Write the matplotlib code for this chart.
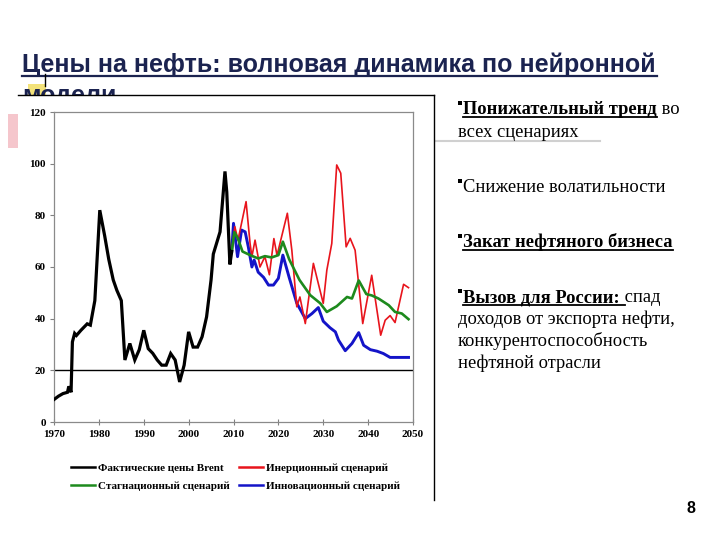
import matplotlib
matplotlib.use('Agg')
import matplotlib.pyplot as plt
from matplotlib.patches import Rectangle
from matplotlib.lines import Line2D

# ---------------- data ----------------
brent_years = [1970, 1971, 1972, 1973, 1973.3, 1973.8, 1974.1, 1974.6, 1975, 1976, 1977.4, 1978.1,
               1979.1, 1980.2, 1981.3, 1982.2, 1983.2, 1984, 1985, 1985.8, 1986.9, 1988, 1989,
               1990, 1991, 1992, 1993, 1994, 1995, 1996, 1997, 1998, 1999, 2000, 2001, 2002,
               2003, 2004, 2005, 2005.5, 2007, 2008.1, 2008.5, 2009.2, 2009.6]
brent_vals = [8.7, 10, 11, 11.5, 13.8, 11.5, 31, 34.3, 33.5, 35.5, 38, 37.5,
              47, 82, 72, 63, 55, 51, 47, 24, 30.4, 24, 28,
              35.5, 28.4, 26.6, 24, 22, 22, 26.5, 24, 15.5, 22, 34.9, 29, 29,
              33, 40.7, 55, 65, 73.6, 97, 89, 61, 66]

inert_years = [2009.6, 2010.3, 2011, 2012.8, 2013.7, 2014.1, 2014.8, 2015.9, 2017, 2018, 2019,
               2019.7, 2022, 2023, 2024.1, 2024.8, 2026, 2027.8, 2028.9, 2030, 2030.8, 2031.9,
               2033, 2033.9, 2035.1, 2036, 2037.1, 2038.8, 2040.8, 2042.8, 2043.8, 2044.9,
               2046, 2047.9, 2049]
inert_vals = [66, 75.6, 70.4, 85.3, 69, 64, 70.4, 60, 64, 57, 71,
              64.5, 80.8, 66.5, 44.6, 48.4, 38.1, 61.4, 53.6, 45.9, 58.8, 69.1,
              99.5, 96.3, 67.8, 71.1, 66.5, 38.1, 56.8, 33.6, 39.4, 41.2,
              38.5, 53.3, 52]

stag_years = [2009.6, 2010.2, 2011, 2012, 2013.7, 2015.5, 2017, 2018.5, 2020, 2021, 2022.4,
              2024.7, 2027.1, 2029.3, 2030.8, 2033, 2035.3, 2036.4, 2037.9, 2039.6, 2040.8,
              2042.3, 2044.6, 2046, 2047.5, 2049]
stag_vals = [66, 73.5, 71, 66, 64.6, 63.3, 64.2, 63.7, 64.6, 69.8, 63,
             55, 49.1, 46, 42.6, 44.8, 48.4, 47.8, 54.8, 49.5, 49,
             47.8, 45.2, 42.6, 42, 39.8]

innov_years = [2009.6, 2010, 2010.9, 2011.8, 2012.6, 2013.3, 2014.1, 2014.6, 2015.5, 2016.7,
               2017.8, 2018.9, 2020, 2021, 2022.4, 2024.1, 2026, 2027.5, 2028.9, 2030,
               2031.5, 2032.7, 2033.4, 2034.9, 2036.4, 2037.9, 2039, 2040.5, 2042, 2043.4,
               2044.9, 2049]
innov_vals = [66, 76.9, 64, 74.3, 73.6, 67.8, 60, 62.7, 58, 56,
              53, 53, 55.6, 64.6, 56, 46, 40, 42, 44.3, 39,
              36.5, 34.9, 31.7, 27.6, 30.4, 34.6, 29.7, 28, 27.4, 26.5,
              25, 25]

x_ticks = list(range(1970, 2051, 10))
y_ticks = list(range(0, 121, 20))

labels = ['Фактические цены Brent', 'Инерционный сценарий',
          'Стагнационный сценарий', 'Инновационный сценарий']

title_line1 = 'Цены на нефть: волновая динамика по нейронной'
title_line2 = 'модели'

# ---------------- figure ----------------
W, H = 720, 540
fig = plt.figure(figsize=(7.2, 5.4), dpi=100)
fig.patch.set_facecolor('white')


def fx(x):
    return x / W


def fy(y):
    return 1 - y / H


navy = '#1b2350'
renderer = fig.canvas.get_renderer()
title_family = ['Liberation Sans', 'DejaVu Sans']

t1 = fig.text(fx(22), fy(72), title_line1, fontsize=18, fontweight='bold',
              family=title_family, color=navy, zorder=1)
w = t1.get_window_extent(renderer).width
fs_title = 18 * 635 / w
t1.set_fontsize(fs_title)
fig.add_artist(Line2D([fx(22), fx(657)], [fy(75.5), fy(75.5)], transform=fig.transFigure,
                      color=navy, lw=1.6, zorder=1))

# yellow highlight + second line (mostly hidden by chart box)
fig.add_artist(Rectangle((fx(28), fy(96)), fx(46) - fx(28), fy(84) - fy(96),
                         transform=fig.transFigure, facecolor='#f3e27a', edgecolor='none', zorder=0.5))
fig.text(fx(22), fy(103), title_line2, fontsize=fs_title, fontweight='bold',
         family=title_family, color=navy, zorder=1)
fig.add_artist(Line2D([fx(44.5), fx(44.5)], [fy(74), fy(86)], transform=fig.transFigure,
                      color='black', lw=1.0, zorder=1))

# chart box (white) covering lower part of second title line
fig.add_artist(Rectangle((fx(18), fy(500)), fx(434) - fx(18), fy(95) - fy(500),
                         transform=fig.transFigure, facecolor='white', edgecolor='none', zorder=5))
fig.add_artist(Line2D([fx(18), fx(434)], [fy(95), fy(95)], transform=fig.transFigure,
                      color='black', lw=1.0, zorder=6))
fig.add_artist(Line2D([fx(434), fx(434)], [fy(95), fy(500)], transform=fig.transFigure,
                      color='black', lw=1.0, zorder=6))
# pink decoration at left
fig.add_artist(Rectangle((fx(8), fy(148)), fx(18) - fx(8), fy(114) - fy(148),
                         transform=fig.transFigure, facecolor='#f5c6cc', edgecolor='none', zorder=7))
# grey separator at right
fig.add_artist(Line2D([fx(436), fx(600)], [fy(141), fy(141)], transform=fig.transFigure,
                      color='#d0d0d0', lw=1.5, zorder=1))

# ---------------- axes ----------------
ax = fig.add_axes([fx(54), fy(422), (413 - 54) / W, (422 - 112) / H])
ax.set_zorder(10)
ax.set_facecolor('white')

l_brent, = ax.plot(brent_years, brent_vals, color='black', lw=2.3, solid_joinstyle='miter', zorder=5)
l_inert, = ax.plot(inert_years, inert_vals, color='#e8141c', lw=1.2, zorder=3)
l_stag, = ax.plot(stag_years, stag_vals, color='#1d8a1d', lw=1.9, zorder=4)
l_innov, = ax.plot(innov_years, innov_vals, color='#1414c8', lw=2.1, zorder=2)
ax.axhline(20, color='black', lw=1.0, zorder=1)

ax.set_xlim(1970, 2050)
ax.set_ylim(0, 120)
ax.set_xticks(x_ticks)
ax.set_yticks(y_ticks)
tick_font = dict(family='Liberation Serif', weight='bold', size=8)
ax.set_xticklabels([str(v) for v in x_ticks], **tick_font)
ax.set_yticklabels([str(v) for v in y_ticks], **tick_font)
ax.tick_params(axis='x', direction='inout', length=4, width=0.8, color='#808080', pad=4)
ax.tick_params(axis='y', direction='out', length=3, width=0.8, color='#808080', pad=3)
for s in ax.spines.values():
    s.set_color('#8a8a8a')
    s.set_linewidth(0.9)

leg = ax.legend([l_brent, l_stag, l_inert, l_innov],
                [labels[0], labels[2], labels[1], labels[3]],
                ncol=2, frameon=False, loc='upper left',
                bbox_to_anchor=(fx(71), fy(463)), bbox_transform=fig.transFigure,
                borderpad=0, borderaxespad=0, handlelength=2.2, handletextpad=0.25,
                columnspacing=0.8, labelspacing=0.75,
                prop=dict(family='Liberation Serif', weight='bold', size=8))
for line in leg.get_lines():
    line.set_linewidth(1.8)

# ---------------- right text ----------------
serif = ['Liberation Serif', 'DejaVu Serif']
fs_txt = 13.3


def rich(x, y, pieces):
    cx = x
    for text, bold, under in pieces:
        t = fig.text(fx(cx), fy(y), text, fontsize=fs_txt, family=serif,
                     fontweight='bold' if bold else 'normal', color='black', zorder=8)
        wd = t.get_window_extent(renderer).width
        if under:
            fig.add_artist(Line2D([fx(cx), fx(cx + wd + (5 if text.endswith(':') else 0))],
                                  [fy(y + 2.5), fy(y + 2.5)], transform=fig.transFigure,
                                  color='black', lw=1.3, zorder=8))
        cx += wd


def bullet(x, y):
    fig.add_artist(Rectangle((fx(x), fy(y - 9)), 4 / W, 4 / H, transform=fig.transFigure,
                             facecolor='black', edgecolor='none', zorder=8))
    return x + 5


bx = 458
x0 = bullet(bx, 114)
rich(x0, 114, [('Понижательный тренд', True, True), (' во', False, False)])
rich(bx, 137, [('всех сценариях', False, False)])
x0 = bullet(bx, 192)
rich(x0, 192, [('Снижение волатильности', False, False)])
x0 = bullet(bx, 247)
rich(x0, 247, [('Закат нефтяного бизнеса', True, True)])
x0 = bullet(bx, 302)
rich(x0, 302, [('Вызов для России:', True, True), (' спад', False, False)])
rich(bx, 324, [('доходов от экспорта нефти,', False, False)])
rich(bx, 346, [('конкурентоспособность', False, False)])
rich(bx, 368, [('нефтяной отрасли', False, False)])

fig.text(fx(691), fy(513), '8', fontsize=11.5, family='Liberation Sans', fontweight='bold',
         ha='center', color='black', zorder=8)

fig.savefig('out.png', dpi=100, facecolor='white')
